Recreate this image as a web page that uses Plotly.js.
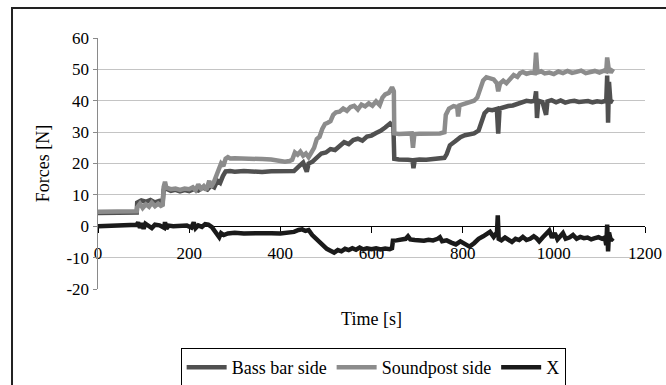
<!DOCTYPE html>
<html>
<head>
<meta charset="utf-8">
<script src="https://cdn.plot.ly/plotly-3.0.1.min.js"></script>
<style>html,body{margin:0;padding:0;background:#fff;}#chart{width:666px;height:385px;}</style>
</head>
<body>
<div id="chart"></div>
<script>
// Bass bar side
const bassT = [0,85,86,95,105,115,125,135,142,144,150,160,170,180,190,200,210,220,230,240,248,255,262,268,274,280,290,300,320,340,360,380,400,420,430,440,450,458,462,470,480,490,500,510,520,530,540,550,560,570,580,590,600,610,620,630,641,648,650,660,670,680,690,692,695,705,720,735,750,760,765,772,783,795,805,815,825,835,842,848,856,865,875,878,881,890,900,910,920,930,940,950,958,961,963,966,975,983,986,995,1005,1015,1025,1035,1045,1055,1065,1075,1085,1095,1105,1115,1117,1119,1121,1124,1130];
const bassF = [4.2,4.4,7.5,8.2,7.8,8.4,7.6,8.1,7.9,11.5,12,11.3,11.6,11.1,11.5,11.2,11.8,11.4,12.3,11.7,13,12.4,14.5,13.8,16,17.5,17.6,17.4,17.6,17.4,17.3,17.5,17.4,17.3,17.6,19,20.3,17.4,20,20.5,22,23.2,23.5,24.6,24.3,25.5,26.8,26.2,27.5,27.9,27.3,28.6,28.9,29.7,30.4,31.5,32.8,32,21.5,21.3,21.4,21.2,21,18.5,21.1,21.3,21.2,21.3,21.5,21.8,23,25.8,27,28.4,29,29.3,29.6,30.5,33,36,37.2,37,37.4,29.5,37.5,38,38.3,38.5,39,39.6,40,39.8,40,43,34.5,40,39.6,35.5,39.8,40.2,39.5,40.1,39.4,39.8,40,39.6,39.7,39.9,39.5,39.8,39.6,40,48,33,46,40,39.5];

// Soundpost side
const postT = [0,85,86,92,98,105,112,118,125,132,138,142,144,147,150,160,170,180,190,200,208,214,220,226,232,238,244,248,254,260,265,270,275,280,285,290,300,320,340,360,380,395,410,420,426,432,438,444,450,456,462,468,474,480,486,492,498,504,510,516,522,530,538,546,554,562,570,578,586,594,602,610,618,624,630,638,645,649,650,660,670,680,688,691,694,705,720,735,750,760,763,770,780,788,790,793,805,815,825,832,838,845,852,860,868,875,878,882,889,896,904,912,920,926,932,940,950,958,961,964,972,980,990,1000,1010,1020,1030,1040,1050,1060,1070,1080,1090,1100,1110,1115,1117,1120,1125,1130];
const postF = [4.6,4.8,6,7.2,5.8,7,6.2,7.5,6.4,7.2,6.5,6.8,12.5,14.2,12.3,11.8,12,11.6,12,11.8,12.4,11.5,13.3,12,12.8,11.6,14.5,12.5,14,16.5,18.5,20,19.2,21.5,22,21.6,21.7,21.5,21.6,21.4,21.3,20.8,20.6,20.8,21.2,23.5,22.8,23.8,22.5,23.2,22,23.5,25,27.8,28.5,31,32.6,33,33.5,35.5,36.3,36.5,37.5,36.8,38,38.4,37.2,38.8,38.2,39.2,38.4,39.8,38.6,41,42,42.5,44.3,43,29.6,29.4,29.5,29.3,29.6,25,29.4,29.5,29.6,29.4,29.6,30,35.5,37.5,38.3,38,35,38.5,39.2,39.6,40,41,44,46.5,47.5,47.2,46.8,45.6,43,45.5,46.4,45.6,47,48.2,47.6,48.8,49.2,48.6,49,48.8,55.3,49,49.4,48.7,49,48.5,49.3,48.8,49.5,48.9,49.2,49.6,48.8,49.3,49.5,49,49.6,49.4,53.8,50.5,49,50.2];

// X
const xT = [0,20,40,60,85,88,92,96,100,104,110,118,125,135,145,147,150,155,165,180,195,205,210,214,220,228,235,242,250,256,262,266,270,276,285,300,320,340,360,380,400,420,430,440,448,455,462,470,478,486,494,502,510,518,526,534,542,550,558,566,574,582,590,600,610,620,630,640,645,647,655,665,675,680,685,695,705,715,725,735,745,750,755,765,775,785,795,805,815,825,835,845,855,860,868,872,875,877,879,885,893,900,908,916,924,932,940,948,956,962,968,976,984,990,996,1002,1008,1014,1020,1026,1034,1042,1050,1058,1066,1074,1082,1090,1098,1106,1112,1115,1117,1119,1121,1125,1130];
const xF = [0,0.2,0.3,0.4,0.5,1.2,-0.5,1,-0.8,0.8,0.2,-0.6,0.5,0.3,-0.5,1.3,-0.8,0.2,0,0,0.2,-0.4,1.2,-0.6,0.3,-0.2,0.7,0.5,-0.3,-1.5,-2.5,-3.5,-2.2,-2.8,-2.3,-2.1,-2.3,-2.2,-2.1,-2.2,-2.3,-2.2,-1.8,-1.2,-1,-1.5,-1.2,-2.8,-4,-5.2,-6.4,-7.2,-7.8,-8.4,-7.6,-8,-7.2,-7.6,-7,-7.5,-6.8,-7.4,-7,-7.3,-7,-7.4,-7.1,-7.3,-7,-4.6,-4.5,-4.3,-4,-3.2,-4.2,-4.4,-4.5,-4.6,-4.3,-4.5,-4,-3.5,-4.8,-4.5,-5.2,-5.8,-4.8,-5.6,-6.5,-5.4,-4,-3.2,-2.4,-1.8,-3.4,-2.6,-3,3.5,-4,-4.5,-3.6,-4.2,-5,-4,-4.4,-3.4,-4.4,-4,-3.2,-3.8,-4.8,-3.5,-2.4,-1.4,-3.6,-2.2,-4.2,-3.4,-2.2,-4,-3.6,-2.8,-4,-3.4,-3.8,-3.6,-4.2,-3.8,-3.5,-4,-3.6,-6,0.5,-8,-2,-4.5,-3.8];

const yTicks = [-20,-10,0,10,20,30,40,50,60];
const xTicks = [0,200,400,600,800,1000,1200];

const serif = '"Liberation Serif", "Times New Roman", "DejaVu Serif", serif';

const traces = [
  {x: bassT, y: bassF, name: 'Bass bar side', type: 'scatter', mode: 'lines', line: {color: '#505050', width: 4.5}},
  {x: postT, y: postF, name: 'Soundpost side', type: 'scatter', mode: 'lines', line: {color: '#8c8c8c', width: 4.5}},
  {x: xT, y: xF, name: 'X', type: 'scatter', mode: 'lines', line: {color: '#1a1a1a', width: 4.5}}
];

const layout = {
  width: 666, height: 385,
  margin: {l: 98, r: 21, t: 38, b: 96, autoexpand: false},
  paper_bgcolor: '#fff', plot_bgcolor: '#fff',
  font: {family: serif, size: 17, color: '#000'},
  showlegend: true,
  legend: {orientation: 'h', x: 0.503, xanchor: 'center', y: -0.235, yanchor: 'top',
           bordercolor: '#000', borderwidth: 1, font: {family: serif, size: 18, color: '#000'},
           itemwidth: 40, traceorder: 'normal'},
  xaxis: {range: [0, 1200], tickvals: xTicks, ticktext: xTicks.map(String),
          anchor: 'free', position: 0.25, showgrid: false, zeroline: false, automargin: false,
          showline: true, linecolor: '#000', linewidth: 1,
          ticks: 'outside', ticklen: 6, tickcolor: '#000', ticklabelstandoff: 5,
          layer: 'below traces',
          tickfont: {family: serif, size: 17, color: '#000'},
          title: {text: 'Time [s]', font: {family: serif, size: 18, color: '#000'}, standoff: 50}},
  yaxis: {range: [-20, 60], tickvals: yTicks, ticktext: yTicks.map(String), automargin: false,
          showgrid: true, gridcolor: '#c4c4c4', gridwidth: 1.2, zeroline: false,
          showline: true, linecolor: '#8a8a8a', linewidth: 1.5,
          ticks: 'outside', ticklen: 4, tickcolor: '#8a8a8a',
          tickfont: {family: serif, size: 17, color: '#000'},
          title: {text: 'Forces [N]', font: {family: serif, size: 18, color: '#000'}, standoff: 12}},
  shapes: [
    {type: 'rect', xref: 'paper', yref: 'paper', x0: -0.1572, x1: 1.3, y0: -0.6, y1: 1.1195,
     line: {color: '#222', width: 2}, fillcolor: 'rgba(0,0,0,0)', layer: 'below'}
  ]
};

Plotly.newPlot('chart', traces, layout, {staticPlot: true, displayModeBar: false});
</script>
</body>
</html>
